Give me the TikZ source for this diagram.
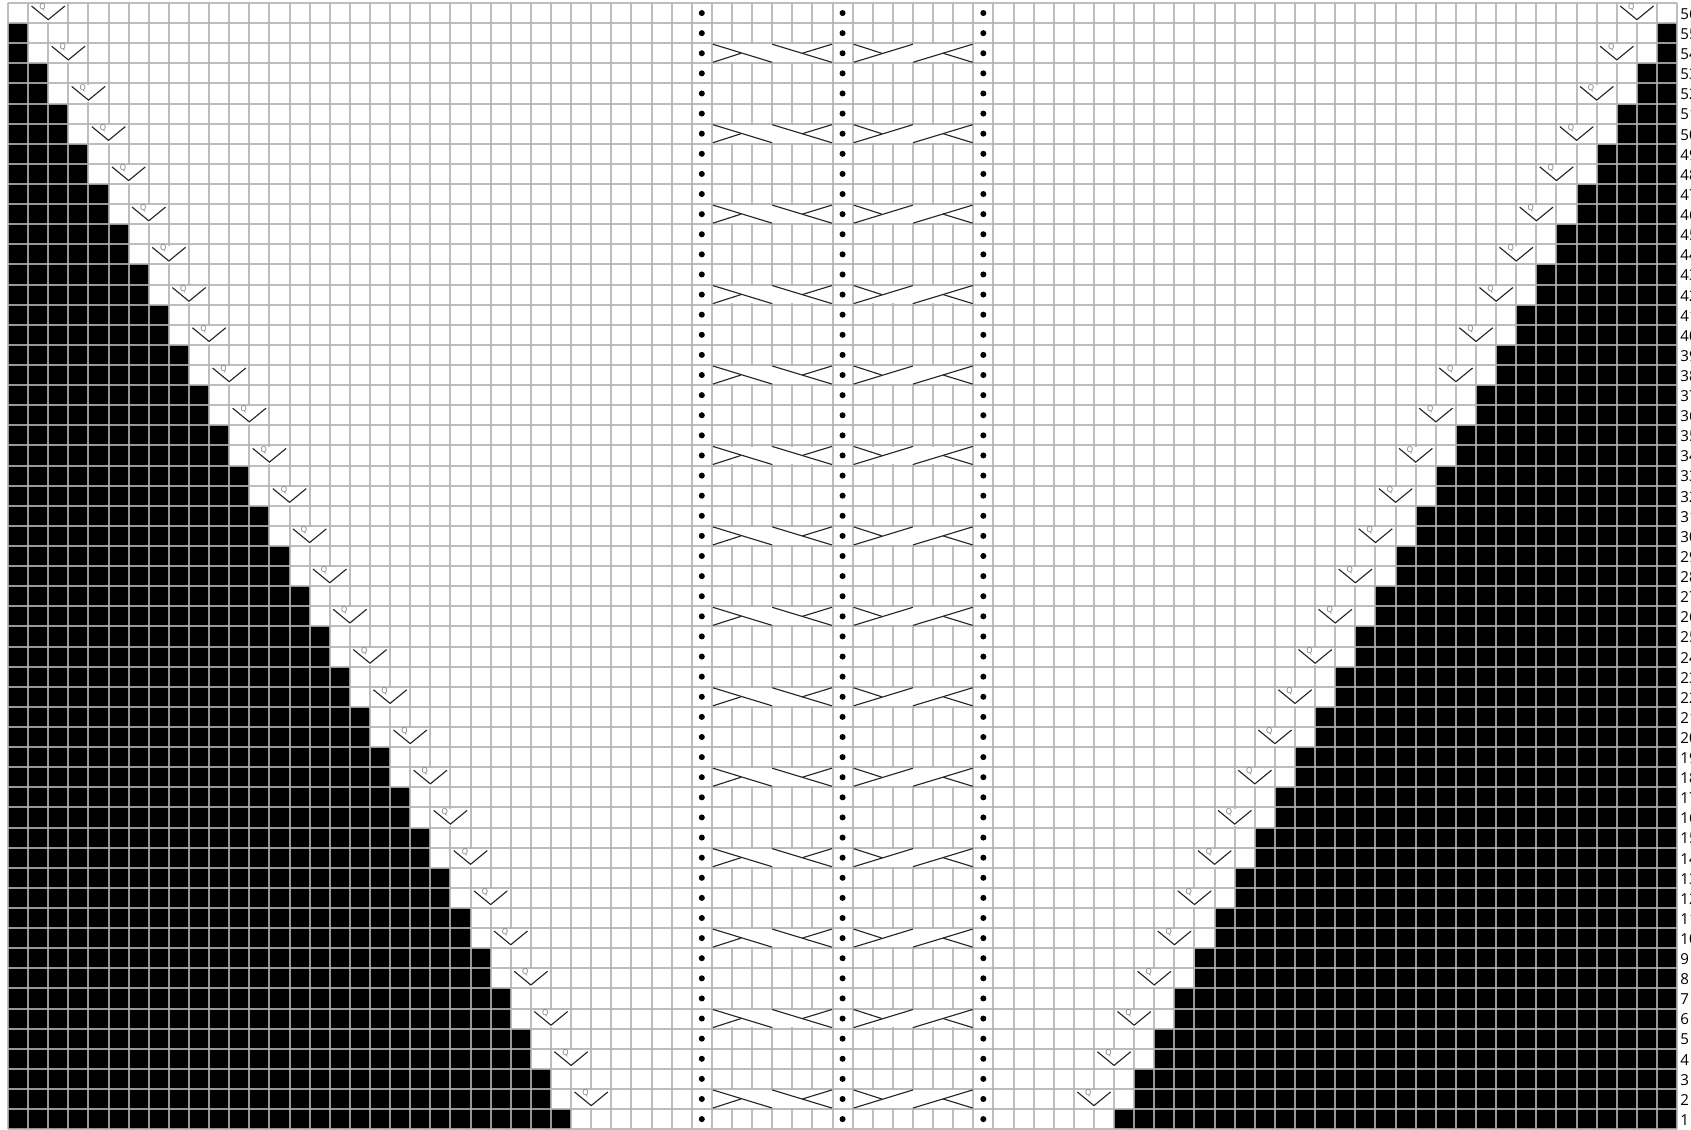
\documentclass[tikz,border=0pt]{standalone}
\usepackage{fontspec}
\setsansfont{Open Sans}
\usetikzlibrary{calc, positioning}

\tikzset{
    gridline/.style={line width=1.2pt, black!30, draw opacity=0.85},
    stitchline/.style={line width=0.8pt, black!85},
    rowlabel/.style={right, inner sep=0pt, font=\sffamily\fontsize{10.7pt}{12pt}\selectfont},
    slipmark/.style={inner sep=0pt, text=black!55, font=\sffamily\fontsize{5.7pt}{6pt}\selectfont},
}

\begin{document}
\begin{tikzpicture}[x=0.5cm,y=0.5cm]
\def\numrows{56}
\def\numcols{83}
\def\pitch{20.11}

\useasboundingbox (-0.39781,-0.0393) rectangle (83.6897,56.1492);

% shaped edges
\foreach \row in {1,...,\numrows} {
    \pgfmathtruncatemacro{\wedge}{(57-\row)/2}
    \ifnum\wedge>0
        \fill[black] (0,\row-1) rectangle (\wedge,\row);
        \fill[black] (\numcols-\wedge,\row-1) rectangle (\numcols,\row);
    \fi
}

% grid, lines kept on whole pixels
\foreach \col in {0,...,\numcols} {
    \pgfmathsetmacro{\gridx}{round(\col*\pitch)/\pitch}
    \draw[gridline] (\gridx,0) -- (\gridx,\numrows);
}
\foreach \row in {0,...,\numrows} {
    \pgfmathsetmacro{\gridy}{\numrows-round((\numrows-\row)*\pitch)/\pitch}
    \draw[gridline] (0,\gridy) -- (\numcols,\gridy);
}

% decreases, two cells each
\foreach \row in {2,4,...,\numrows} {
    \pgfmathtruncatemacro{\col}{(56-\row)/2+1}
    \pgfmathtruncatemacro{\colr}{\numcols-\col-2}
    \foreach \start in {\col,\colr} {
        \fill[white] (\start+0.06,\row-0.94) rectangle (\start+1.94,\row-0.06);
        \draw[stitchline] (\start+0.17,\row-0.15) -- (\start+1,\row-0.83) -- (\start+1.83,\row-0.15);
        \node[slipmark] (q\row-\start) at (\start+0.72,\row-0.22) {Q};
    }
}

% cables, six cells each
\foreach \row in {2,6,...,54} {
    \foreach \start in {35,42} {
        \fill[white] (\start+0.06,\row-0.94) rectangle (\start+5.94,\row-0.06);
    }
    \draw[stitchline] (35.05,\row-0.05) -- (38,\row-0.95);
    \draw[stitchline] (35.05,\row-0.95) -- (36.45,\row-0.5);
    \draw[stitchline] (38,\row-0.05) -- (40.97,\row-0.95);
    \draw[stitchline] (39.5,\row-0.5) -- (40.97,\row-0.05);
    \draw[stitchline] (42.05,\row-0.95) -- (45,\row-0.05);
    \draw[stitchline] (42.05,\row-0.05) -- (43.45,\row-0.5);
    \draw[stitchline] (45,\row-0.95) -- (47.97,\row-0.05);
    \draw[stitchline] (46.5,\row-0.5) -- (47.97,\row-0.95);
}

% purl columns
\foreach \row in {1,...,\numrows} {
    \foreach \col in {34,41,48} {
        \fill[black] (\col+0.5,\row-0.5) circle (0.15);
    }
}

% row numbers
\foreach \row in {1,...,\numrows} {
    \node[rowlabel] (r\row) at (83.15,\row-0.55) {\row};
}
\end{tikzpicture}
\end{document}
